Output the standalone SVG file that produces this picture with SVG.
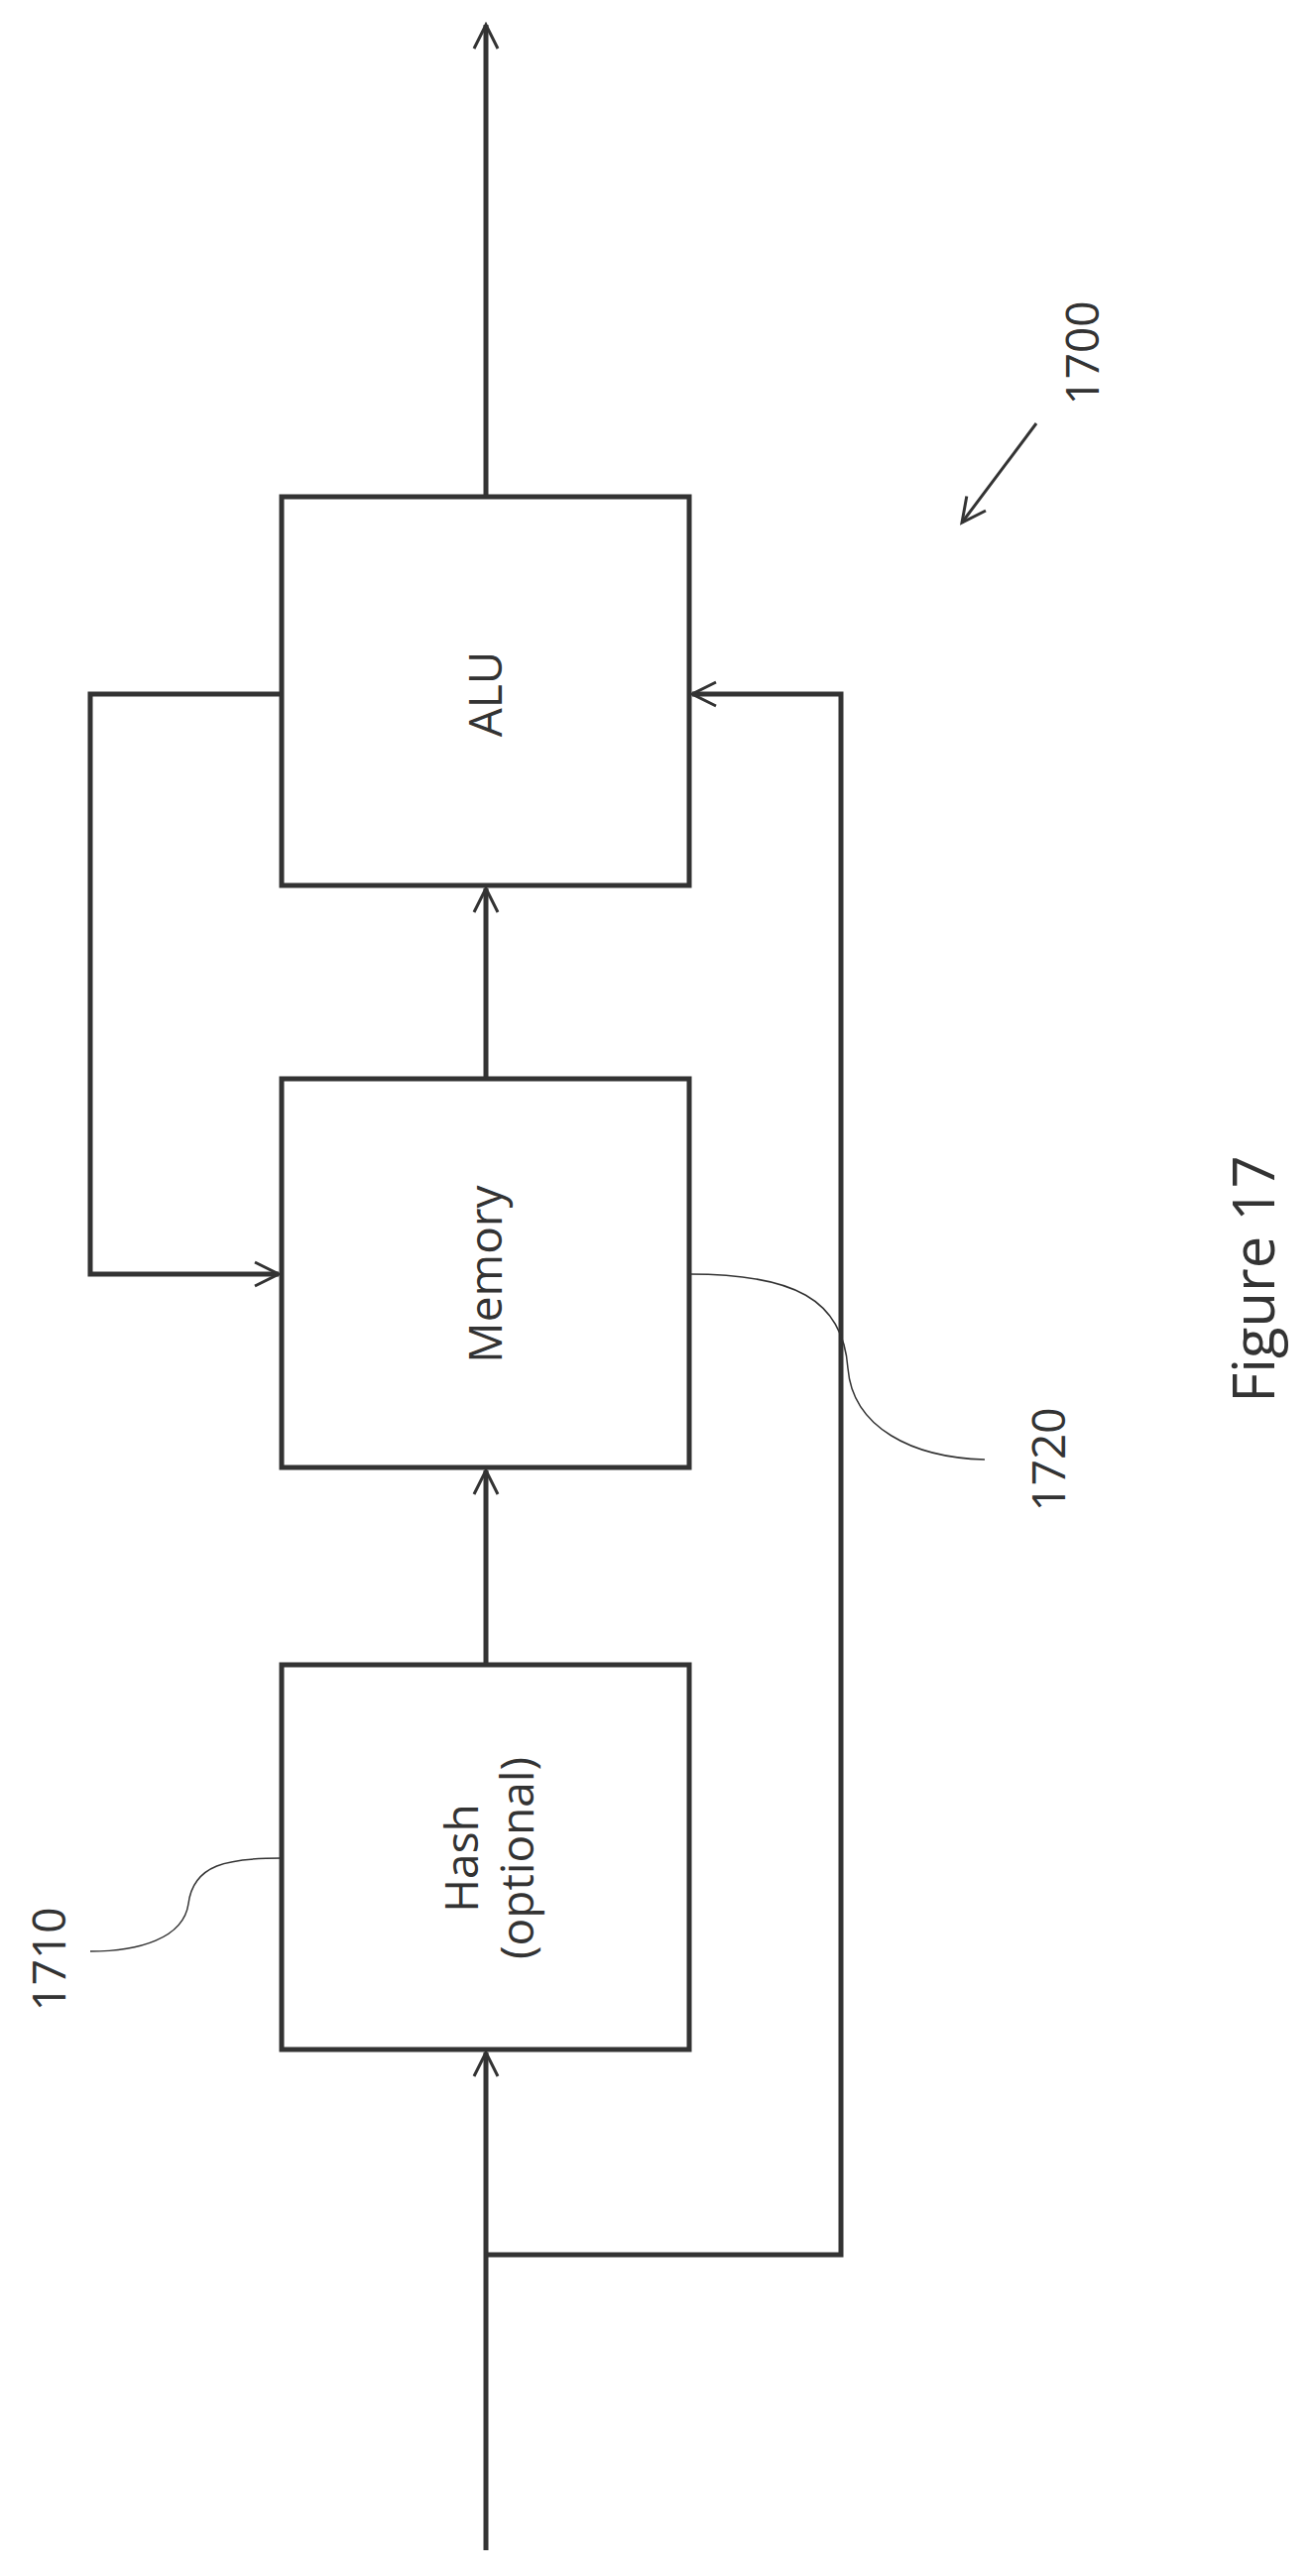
<svg xmlns="http://www.w3.org/2000/svg" width="1323" height="2598" viewBox="0 0 1323 2598">
<defs>
<style>
.box{fill:#fff;stroke:#333;stroke-width:5}
.ln{fill:none;stroke:#333;stroke-width:5}
.th{fill:none;stroke:#333;stroke-width:1.5}
text{font-family:"Open Sans","Liberation Sans",sans-serif;fill:#333;text-anchor:middle}
</style>
<marker id="a" viewBox="0 0 20 20" refX="18" refY="10" markerWidth="8" markerHeight="8" markerUnits="userSpaceOnUse" orient="auto" style="overflow:visible">
<path d="M0,0 L18,10 L0,20" fill="none" stroke="#333" stroke-width="2.5"/>
</marker>
<marker id="b" viewBox="0 0 20 20" refX="18" refY="10" markerWidth="30" markerHeight="30" markerUnits="userSpaceOnUse" orient="auto">
<path d="M2,2 L18,10 L2,18" fill="none" stroke="#333" stroke-width="2"/>
</marker>
</defs>
<rect width="1323" height="2598" fill="#fff"/>
<g id="connectors">
<line class="ln" x1="490" y1="2572" x2="490" y2="2070" marker-end="url(#b)"/>
<line class="ln" x1="490" y1="1679" x2="490" y2="1483" marker-end="url(#b)"/>
<line class="ln" x1="490" y1="1088" x2="490" y2="896" marker-end="url(#b)"/>
<line class="ln" x1="490" y1="501" x2="490" y2="25" marker-end="url(#b)"/>
<polyline class="ln" points="490,2274 848,2274 848,700 698,700" marker-end="url(#b)"/>
<polyline class="ln" points="284,700 91,700 91,1285 281,1285" marker-end="url(#b)"/>
<line class="ln" x1="1045" y1="427" x2="970" y2="527" marker-end="url(#b)" style="stroke-width:3"/>
<path class="th" d="M695,1285 C800,1285 850,1310 855,1380 C860,1440 920,1470 993,1472"/>
<path class="th" d="M284,1874 C230,1874 195,1880 190,1920 C185,1955 140,1968 91,1968"/>
</g>
<g id="alu"><rect class="box" x="284" y="501" width="411" height="392"/><text font-size="46" transform="translate(506,700) rotate(-90)">ALU</text></g>
<g id="memory"><rect class="box" x="284" y="1088" width="411" height="392"/><text font-size="46" transform="translate(506,1285) rotate(-90)">Memory</text></g>
<g id="hash"><rect class="box" x="284" y="1679" width="411" height="388"/><text font-size="46" transform="translate(490,1874) rotate(-90)"><tspan x="0" y="-8">Hash</tspan><tspan x="0" y="48">(optional)</tspan></text></g>
<g id="labels">
<text font-size="46" transform="translate(1108,356) rotate(-90)">1700</text>
<text font-size="46" transform="translate(1074,1472) rotate(-90)">1720</text>
<text font-size="46" transform="translate(66,1976) rotate(-90)">1710</text>
<text font-size="58" transform="translate(1285,1290) rotate(-90)">Figure 17</text>
</g>
</svg>
